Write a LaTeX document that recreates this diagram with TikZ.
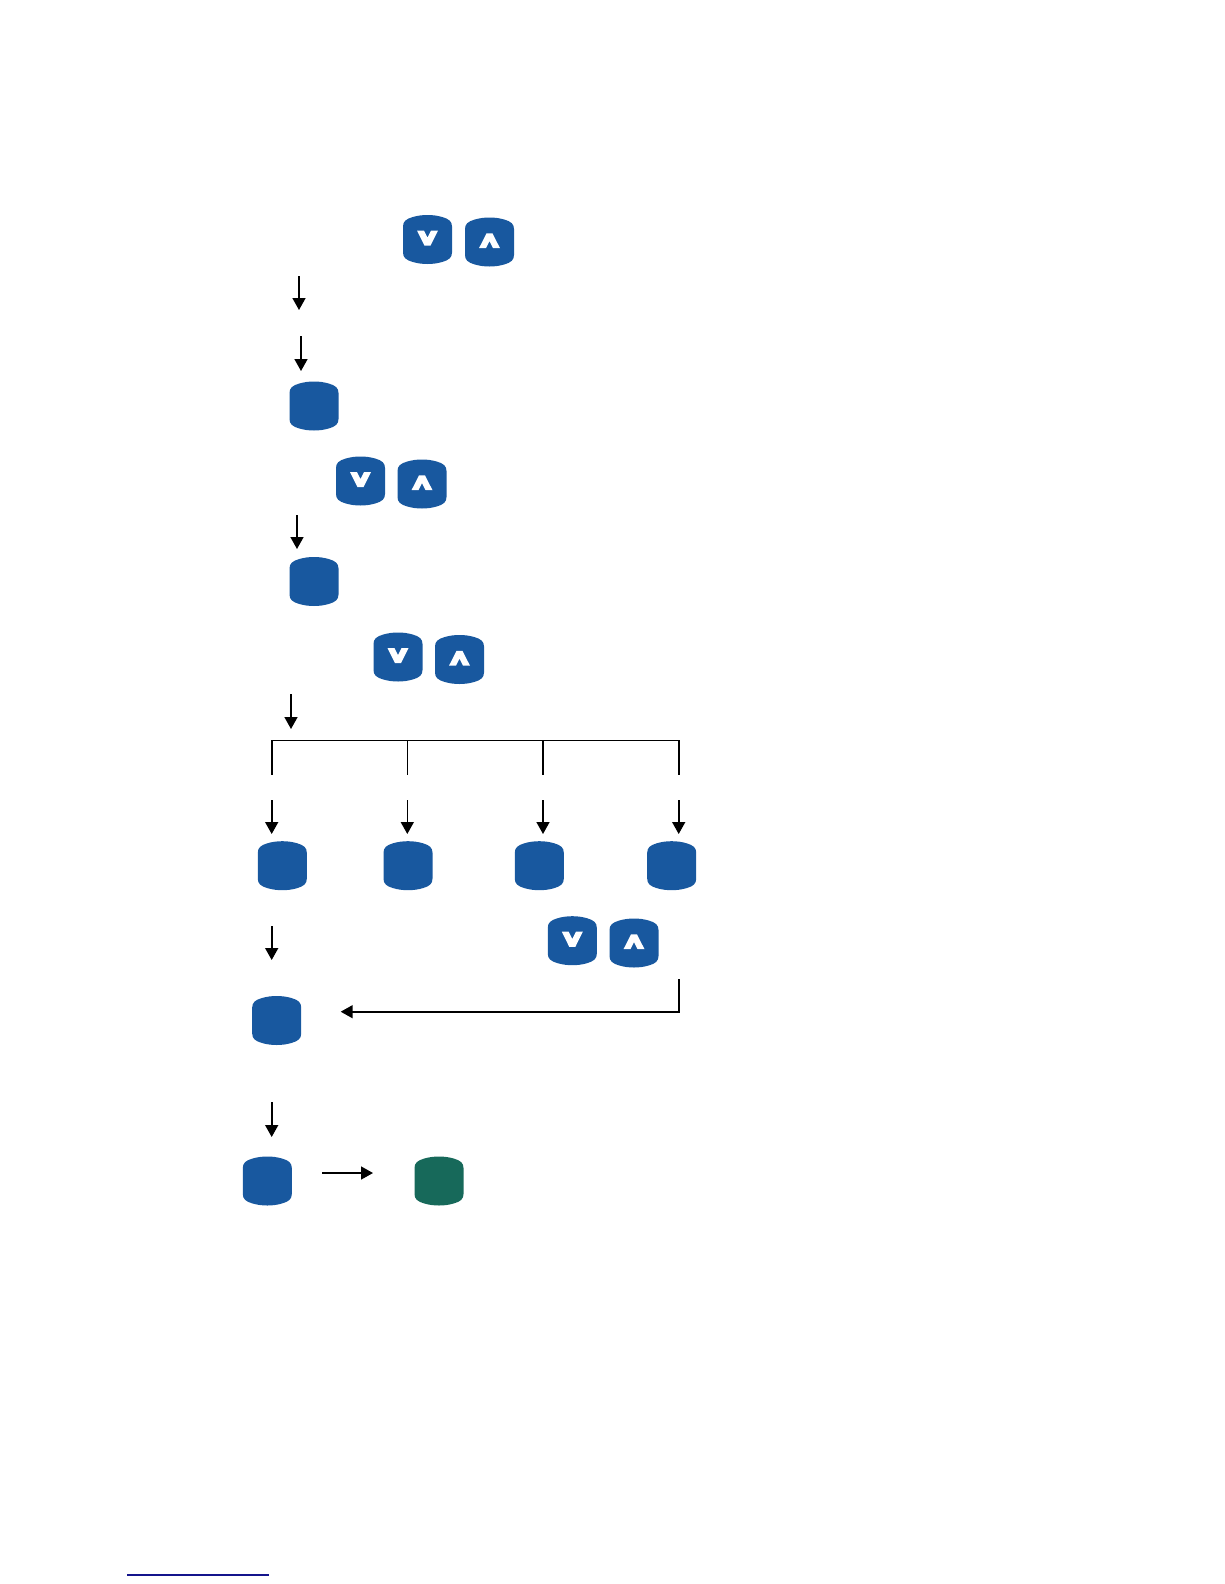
\documentclass[tikz,border=0pt]{standalone}
\usetikzlibrary{arrows.meta}
\definecolor{btnblue}{HTML}{18589F}
\definecolor{btngreen}{HTML}{17695A}
\definecolor{rulenavy}{HTML}{14148C}
\newcommand{\btnshape}{(-24.5,-13) .. controls (-24.5,-18) and (-21.5,-20.5) .. (-15,-22.4)
  .. controls (-10,-23.9) and (-5,-24.5) .. (0,-24.5)
  .. controls (5,-24.5) and (10,-23.9) .. (15,-22.4)
  .. controls (21.5,-20.5) and (24.5,-18) .. (24.5,-13) -- (24.5,13)
  .. controls (24.5,18) and (21.5,20.5) .. (15,22.4)
  .. controls (10,23.9) and (5,24.5) .. (0,24.5)
  .. controls (-5,24.5) and (-10,23.9) .. (-15,22.4)
  .. controls (-21.5,20.5) and (-24.5,18) .. (-24.5,13) -- cycle}
\tikzset{
  x=1pt,y=-1pt,
  btnbase/.style={rectangle,minimum size=49pt,inner sep=0pt,outer sep=0pt},
  btnplain/.style={btnbase,path picture={
    \begin{scope}[shift={(path picture bounding box.center)}]
      \fill[#1] \btnshape;
    \end{scope}}},
  btndown/.style={btnbase,path picture={
    \begin{scope}[shift={(path picture bounding box.center)}]
      \fill[btnblue] \btnshape;
      \fill[white] (-10.5,-9) -- (-3.6,-9) -- (0,-1.8) -- (3.6,-9) -- (10.5,-9) -- (3,6.2) -- (-3,6.2) -- cycle;
    \end{scope}}},
  btnup/.style={btnbase,path picture={
    \begin{scope}[shift={(path picture bounding box.center)}]
      \fill[btnblue] \btnshape;
      \fill[white] (-3,-8.6) -- (3,-8.6) -- (10.5,6.2) -- (3.6,6.2) -- (0,-0.8) -- (-3.6,6.2) -- (-10.5,6.2) -- cycle;
    \end{scope}}},
  flow/.style={line width=1.6pt,-{Triangle[length=12pt,width=13pt]}},
  branch/.style={line width=1.6pt},
}
\begin{document}
\begin{tikzpicture}
\useasboundingbox (0,0) rectangle (1224,1584);
% buttons
\node[btndown] (d1) at (427.5,239.5) {};
\node[btnup] (u1) at (489.5,242) {};
\node[btnplain=btnblue] (b1) at (314,406) {};
\node[btndown] (d2) at (360.5,481) {};
\node[btnup] (u2) at (422,484) {};
\node[btnplain=btnblue] (b2) at (314,581.5) {};
\node[btndown] (d3) at (398,657) {};
\node[btnup] (u3) at (459.5,659.5) {};
\node[btnplain=btnblue] (r1) at (282.3,865.7) {};
\node[btnplain=btnblue] (r2) at (408,865.7) {};
\node[btnplain=btnblue] (r3) at (539.3,865.7) {};
\node[btnplain=btnblue] (r4) at (671.7,865.7) {};
\node[btndown] (d4) at (572.3,940.7) {};
\node[btnup] (u4) at (634,943) {};
\node[btnplain=btnblue] (b3) at (276.7,1020.5) {};
\node[btnplain=btnblue] (b4) at (267.3,1181) {};
\node[btnplain=btngreen] (g1) at (439,1181) {};
% connector ends
\coordinate (a1s) at (299,276); \coordinate (a1e) at (299,310);
\coordinate (a2s) at (301,336); \coordinate (a2e) at (301,371);
\coordinate (a3s) at (297,515); \coordinate (a3e) at (297,549);
\coordinate (a4s) at (291,694); \coordinate (a4e) at (291,729);
\coordinate (t1) at (271.7,740.3); \coordinate (t2) at (407.3,740.3);
\coordinate (t3) at (543,740.3); \coordinate (t4) at (678.7,740.3);
\coordinate (f1) at (271.7,774.7); \coordinate (f2) at (407.3,774.7);
\coordinate (f3) at (543,774.7); \coordinate (f4) at (678.7,774.7);
\coordinate (s1) at (271.7,800); \coordinate (e1) at (271.7,834);
\coordinate (s2) at (407.3,800); \coordinate (e2) at (407.3,834);
\coordinate (s3) at (543,800); \coordinate (e3) at (543,834);
\coordinate (s4) at (678.7,800); \coordinate (e4) at (678.7,834);
\coordinate (a5s) at (271.7,926); \coordinate (a5e) at (271.7,960);
\coordinate (fbs) at (678.7,979.3); \coordinate (fbc) at (678.7,1011.7); \coordinate (fbe) at (340.7,1011.7);
\coordinate (a6s) at (271.7,1102); \coordinate (a6e) at (271.7,1137);
\coordinate (a7s) at (322,1173); \coordinate (a7e) at (373,1173);
\coordinate (ul) at (127,1575); \coordinate (ur) at (269,1575);
% connectors
\draw[flow] (a1s) -- (a1e);
\draw[flow] (a2s) -- (a2e);
\draw[flow] (a3s) -- (a3e);
\draw[flow] (a4s) -- (a4e);
\draw[branch] (f1) -- (t1) -- (t4) -- (f4);
\draw[branch] (t2) -- (f2);
\draw[branch] (t3) -- (f3);
\draw[flow] (s1) -- (e1);
\draw[flow] (s2) -- (e2);
\draw[flow] (s3) -- (e3);
\draw[flow] (s4) -- (e4);
\draw[flow] (a5s) -- (a5e);
\draw[flow] (fbs) -- (fbc) -- (fbe);
\draw[flow] (a6s) -- (a6e);
\draw[flow] (a7s) -- (a7e);
\draw[rulenavy,line width=1.2pt] (ul) -- (ur);
\end{tikzpicture}
\end{document}
